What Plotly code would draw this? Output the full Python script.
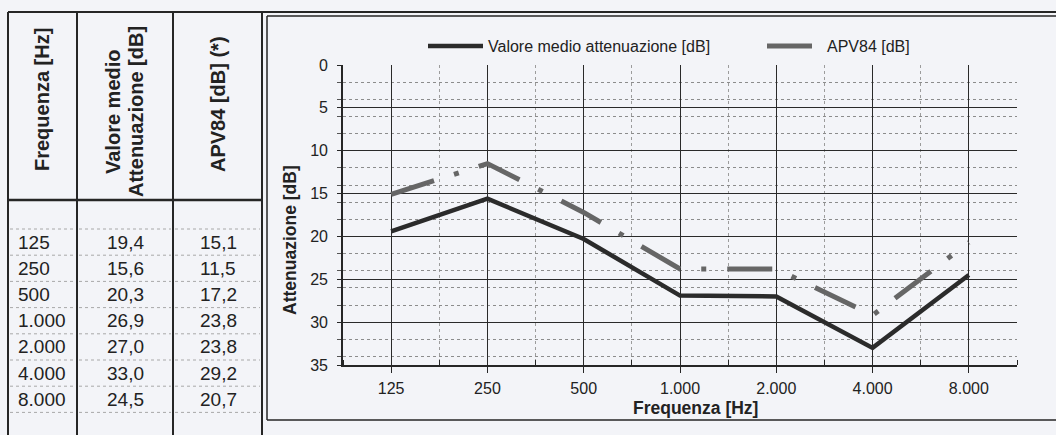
import plotly.graph_objects as go

# ---------------- data ----------------
freq_labels = ["125", "250", "500", "1.000", "2.000", "4.000", "8.000"]
valore_medio = [19.4, 15.6, 20.3, 26.9, 27.0, 33.0, 24.5]
apv84 = [15.1, 11.5, 17.2, 23.8, 23.8, 29.2, 20.7]
header_col1 = "Frequenza [Hz]"
header_col2 = ["Valore medio", "Attenuazione [dB]"]
header_col3 = "APV84 [dB] (*)"
series_names = ["Valore medio attenuazione [dB]", "APV84 [dB]"]
x_title = "Frequenza [Hz]"
y_title = "Attenuazione [dB]"

# ---------------- geometry helpers ----------------
W, H = 1056, 435
L, R, T, B = 343, 1017, 65, 365
PW, PH = R - L, B - T


def px(x):
    return (x - L) / PW


def py(y):
    return (B - y) / PH


FONT = "Liberation Sans, Arial, sans-serif"
BG = "#f3f4f8"
DARK = "#262626"

x_idx = list(range(len(freq_labels)))

fig = go.Figure()
fig.add_trace(go.Scatter(
    x=x_idx, y=valore_medio, mode="lines", name=series_names[0],
    line=dict(color="#2b2b2b", width=4.5), legend="legend",
))
fig.add_trace(go.Scatter(
    x=x_idx, y=apv84, mode="lines", name=series_names[1],
    line=dict(color="#666666", width=5, dash="45px,21px,5px,21px"),
    legend="legend2",
))

shapes = []


def hline(y, x0, x1, width=2, color=DARK, dash="solid"):
    shapes.append(dict(type="line", xref="paper", yref="paper",
                       x0=px(x0), x1=px(x1), y0=py(y), y1=py(y),
                       line=dict(color=color, width=width, dash=dash), layer="above"))


def vline(x, y0, y1, width=2, color=DARK, dash="solid"):
    shapes.append(dict(type="line", xref="paper", yref="paper",
                       x0=px(x), x1=px(x), y0=py(y0), y1=py(y1),
                       line=dict(color=color, width=width, dash=dash), layer="above"))


# table frame
hline(12, 8, 1060, width=2)
vline(8, 12, 440, width=2)
vline(77, 12, 440, width=2)
vline(173, 12, 440, width=2)
vline(262, 12, 440, width=2)
hline(200, 8, 262, width=2.5)
# chart inner frame
vline(267, 16, 420, width=1.5)
hline(16, 267, 1060, width=1.5)
hline(420, 267, 1060, width=1.5)
# table row separators
row_top = 229
row_h = 26.2
for k in range(len(freq_labels) + 1):
    y = row_top + k * row_h
    for (a, b) in [(10, 75), (79, 171), (175, 260)]:
        hline(y, a, b, width=1, color="#a8a8a8", dash="dot")

annotations = []


def text(x, y, s, size=18, bold=False, angle=0, xanchor="center", color="#222"):
    annotations.append(dict(
        xref="paper", yref="paper", x=px(x), y=py(y), text=s, showarrow=False,
        textangle=angle, xanchor=xanchor, yanchor="middle",
        font=dict(family=FONT, size=size, color=color,
                  weight="bold" if bold else "normal"),
    ))


# table headers
text(42, 100, header_col1, size=20, bold=True, angle=-90)
text(113, 112, header_col2[0], size=20, bold=True, angle=-90)
text(136, 112, header_col2[1], size=20, bold=True, angle=-90)
text(218, 104, header_col3, size=20, bold=True, angle=-90)

# table body
for i, f in enumerate(freq_labels):
    yc = row_top + (i + 0.5) * row_h
    text(16, yc, f, size=19, xanchor="left")
    text(125, yc, f"{valore_medio[i]:.1f}".replace(".", ","), size=19)
    text(218, yc, f"{apv84[i]:.1f}".replace(".", ","), size=19)

# axis titles
text(290, 240, y_title, size=17.5, bold=True, angle=-90)
text(695, 408, x_title, size=17.5, bold=True)

legend_common = dict(
    orientation="h", xanchor="left", yanchor="middle",
    bgcolor="rgba(0,0,0,0)", font=dict(size=16, family=FONT, color="#222"),
    itemwidth=55,
)

fig.update_layout(
    width=W, height=H,
    margin=dict(l=L, r=W - R, t=T, b=H - B),
    paper_bgcolor=BG, plot_bgcolor=BG,
    font=dict(family=FONT, size=16, color="#222"),
    showlegend=True,
    legend=dict(x=px(423), y=py(46), **legend_common),
    legend2=dict(x=px(762), y=py(46), **legend_common),
    shapes=shapes,
    annotations=annotations,
    xaxis=dict(
        range=[-0.5, len(freq_labels) - 0.5], tickmode="array",
        tickvals=x_idx, ticktext=freq_labels,
        showgrid=True, gridcolor="#2a2a2a", gridwidth=1.3,
        ticks="outside", ticklen=6, tickcolor=DARK, tickwidth=1.3,
        showline=True, linecolor=DARK, linewidth=1.6, zeroline=False,
        tickfont=dict(size=16, family=FONT, color="#222"),
        ticklabelstandoff=2,
        minor=dict(tickmode="linear", tick0=0.5, dtick=1, ticks="inside",
                   ticklen=5, tickcolor=DARK, showgrid=True,
                   gridcolor="#9c9c9c", griddash="dot", gridwidth=1),
    ),
    yaxis=dict(
        range=[35, 0], tick0=0, dtick=5,
        showgrid=True, gridcolor="#2a2a2a", gridwidth=1.3,
        ticks="outside", ticklen=4, tickcolor=DARK,
        showline=True, linecolor=DARK, linewidth=1.6, zeroline=False,
        tickfont=dict(size=16, family=FONT, color="#222"),
        ticklabelstandoff=6,
        minor=dict(tick0=0, dtick=2, ticks="outside", ticklen=4,
                   tickcolor="#555", showgrid=True,
                   gridcolor="#8c8c8c", griddash="dot", gridwidth=1),
    ),
)

fig.write_html(
    "out.html",
    config={"displayModeBar": False},
    post_script="document.body.style.margin='0';document.body.style.background='" + BG + "';",
)
